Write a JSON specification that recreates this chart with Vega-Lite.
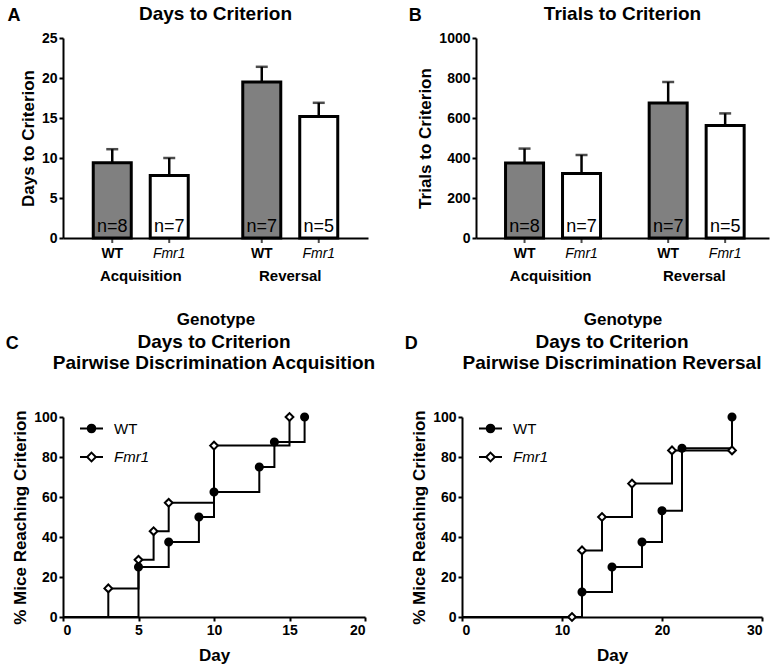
{
  "$schema": "https://vega.github.io/schema/vega-lite/v6.json",
  "padding": 5,
  "datasets": {
    "days": [
      {"phase": "Acquisition", "genotype": "WT", "mean": 9.4, "upper": 11.1, "n": "n=8"},
      {"phase": "Acquisition", "genotype": "Fmr1", "mean": 7.8, "upper": 10.0, "n": "n=7"},
      {"phase": "Reversal", "genotype": "WT", "mean": 19.5, "upper": 21.4, "n": "n=7"},
      {"phase": "Reversal", "genotype": "Fmr1", "mean": 15.2, "upper": 16.9, "n": "n=5"}
    ],
    "trials": [
      {"phase": "Acquisition", "genotype": "WT", "mean": 375, "upper": 447, "n": "n=8"},
      {"phase": "Acquisition", "genotype": "Fmr1", "mean": 323, "upper": 415, "n": "n=7"},
      {"phase": "Reversal", "genotype": "WT", "mean": 675, "upper": 780, "n": "n=7"},
      {"phase": "Reversal", "genotype": "Fmr1", "mean": 562, "upper": 623, "n": "n=5"}
    ],
    "acq": [
      {"genotype": "WT", "day": 0, "pct": 0},
      {"genotype": "WT", "day": 5, "pct": 25},
      {"genotype": "WT", "day": 7, "pct": 37.5},
      {"genotype": "WT", "day": 9, "pct": 50},
      {"genotype": "WT", "day": 10, "pct": 62.5},
      {"genotype": "WT", "day": 13, "pct": 75},
      {"genotype": "WT", "day": 14, "pct": 87.5},
      {"genotype": "WT", "day": 16, "pct": 100},
      {"genotype": "Fmr1", "day": 0, "pct": 0},
      {"genotype": "Fmr1", "day": 3, "pct": 14.3},
      {"genotype": "Fmr1", "day": 5, "pct": 28.6},
      {"genotype": "Fmr1", "day": 6, "pct": 42.9},
      {"genotype": "Fmr1", "day": 7, "pct": 57.1},
      {"genotype": "Fmr1", "day": 10, "pct": 85.7},
      {"genotype": "Fmr1", "day": 15, "pct": 100}
    ],
    "rev": [
      {"genotype": "WT", "day": 0, "pct": 0},
      {"genotype": "WT", "day": 12, "pct": 12.5},
      {"genotype": "WT", "day": 15, "pct": 25},
      {"genotype": "WT", "day": 18, "pct": 37.5},
      {"genotype": "WT", "day": 20, "pct": 53.1},
      {"genotype": "WT", "day": 22, "pct": 84.4},
      {"genotype": "WT", "day": 27, "pct": 100},
      {"genotype": "Fmr1", "day": 0, "pct": 0},
      {"genotype": "Fmr1", "day": 11, "pct": 0},
      {"genotype": "Fmr1", "day": 12, "pct": 33.3},
      {"genotype": "Fmr1", "day": 14, "pct": 50},
      {"genotype": "Fmr1", "day": 17, "pct": 66.7},
      {"genotype": "Fmr1", "day": 21, "pct": 83.3},
      {"genotype": "Fmr1", "day": 27, "pct": 83.3}
    ]
  },
  "vconcat": [
    {
      "hconcat": [
        {
          "title": {"text": "A", "anchor": "start", "frame": "bounds", "fontSize": 18, "offset": -22, "dx": -12, "dy": -2},
          "vconcat": [
            {
              "title": {"text": "Days to Criterion", "anchor": "middle", "frame": "group", "offset": 7},
              "width": 305, "height": 200,
              "data": {"name": "days"},
              "encoding": {
                "x": {"field": "phase", "type": "nominal", "sort": ["Acquisition", "Reversal"],
                      "scale": {"paddingInner": 0.2, "paddingOuter": 0.12},
                      "axis": {"title": "Genotype", "labelAngle": 0, "ticks": false, "labelPadding": 30, "titlePadding": 28, "labelFontSize": 15}},
                "xOffset": {"field": "genotype", "type": "nominal", "sort": ["WT", "Fmr1"],
                      "scale": {"paddingInner": 0.333, "paddingOuter": 0.216}},
                "y": {"field": "mean", "type": "quantitative", "scale": {"domain": [0, 25], "nice": false},
                      "axis": {"title": "Days to Criterion", "values": [0, 5, 10, 15, 20, 25], "labelOverlap": false}}
              },
              "layer": [
                {"mark": {"type": "rule", "strokeWidth": 2.5, "color": "black"},
                 "encoding": {"y2": {"field": "upper"}}},
                {"mark": {"type": "tick", "orient": "horizontal", "size": 12, "thickness": 2.5, "color": "black"},
                 "encoding": {"y": {"field": "upper", "type": "quantitative",
                   "axis": {"title": "Days to Criterion", "values": [0, 5, 10, 15, 20, 25], "labelOverlap": false}}}},
                {"mark": {"type": "tick", "orient": "vertical", "size": 10, "thickness": 2, "color": "black"},
                 "encoding": {"y": {"datum": 0, "type": "quantitative",
                   "axis": {"title": "Days to Criterion", "values": [0, 5, 10, 15, 20, 25], "labelOverlap": false}}}},
                {"mark": {"type": "bar", "stroke": "black", "strokeWidth": 3},
                 "encoding": {"fill": {"field": "genotype", "type": "nominal", "scale": {"domain": ["WT", "Fmr1"], "range": ["#808080", "#ffffff"]}, "legend": null}}},
                {"mark": {"type": "text", "baseline": "bottom", "dy": -2, "fontSize": 18, "color": "black"},
                 "encoding": {"y": {"datum": 0, "type": "quantitative",
                   "axis": {"title": "Days to Criterion", "values": [0, 5, 10, 15, 20, 25], "labelOverlap": false}}, "text": {"field": "n"}}},
                {"transform": [{"filter": "datum.genotype === 'WT'"}],
                 "mark": {"type": "text", "baseline": "top", "dy": 9, "fontSize": 14, "fontWeight": "bold", "color": "black"},
                 "encoding": {"y": {"datum": 0, "type": "quantitative",
                   "axis": {"title": "Days to Criterion", "values": [0, 5, 10, 15, 20, 25], "labelOverlap": false}}, "text": {"field": "genotype"}}},
                {"transform": [{"filter": "datum.genotype === 'Fmr1'"}],
                 "mark": {"type": "text", "baseline": "top", "dy": 9, "fontSize": 14, "fontStyle": "italic", "color": "black"},
                 "encoding": {"y": {"datum": 0, "type": "quantitative",
                   "axis": {"title": "Days to Criterion", "values": [0, 5, 10, 15, 20, 25], "labelOverlap": false}}, "text": {"field": "genotype"}}}
              ]
            }
          ]
        },
        {
          "title": {"text": "B", "anchor": "start", "frame": "bounds", "fontSize": 18, "offset": -22, "dx": -8, "dy": -2},
          "vconcat": [
            {
              "title": {"text": "Trials to Criterion", "anchor": "middle", "frame": "group", "offset": 7},
              "width": 293, "height": 200,
              "data": {"name": "trials"},
              "encoding": {
                "x": {"field": "phase", "type": "nominal", "sort": ["Acquisition", "Reversal"],
                      "scale": {"paddingInner": 0.2, "paddingOuter": 0.12},
                      "axis": {"title": "Genotype", "labelAngle": 0, "ticks": false, "labelPadding": 30, "titlePadding": 28, "labelFontSize": 15}},
                "xOffset": {"field": "genotype", "type": "nominal", "sort": ["WT", "Fmr1"],
                      "scale": {"paddingInner": 0.333, "paddingOuter": 0.216}},
                "y": {"field": "mean", "type": "quantitative", "scale": {"domain": [0, 1000], "nice": false},
                      "axis": {"title": "Trials to Criterion", "values": [0, 200, 400, 600, 800, 1000], "format": "d", "labelOverlap": false}}
              },
              "layer": [
                {"mark": {"type": "rule", "strokeWidth": 2.5, "color": "black"},
                 "encoding": {"y2": {"field": "upper"}}},
                {"mark": {"type": "tick", "orient": "horizontal", "size": 12, "thickness": 2.5, "color": "black"},
                 "encoding": {"y": {"field": "upper", "type": "quantitative",
                   "axis": {"title": "Trials to Criterion", "values": [0, 200, 400, 600, 800, 1000], "format": "d", "labelOverlap": false}}}},
                {"mark": {"type": "tick", "orient": "vertical", "size": 10, "thickness": 2, "color": "black"},
                 "encoding": {"y": {"datum": 0, "type": "quantitative",
                   "axis": {"title": "Trials to Criterion", "values": [0, 200, 400, 600, 800, 1000], "format": "d", "labelOverlap": false}}}},
                {"mark": {"type": "bar", "stroke": "black", "strokeWidth": 3},
                 "encoding": {"fill": {"field": "genotype", "type": "nominal", "scale": {"domain": ["WT", "Fmr1"], "range": ["#808080", "#ffffff"]}, "legend": null}}},
                {"mark": {"type": "text", "baseline": "bottom", "dy": -2, "fontSize": 18, "color": "black"},
                 "encoding": {"y": {"datum": 0, "type": "quantitative",
                   "axis": {"title": "Trials to Criterion", "values": [0, 200, 400, 600, 800, 1000], "format": "d", "labelOverlap": false}}, "text": {"field": "n"}}},
                {"transform": [{"filter": "datum.genotype === 'WT'"}],
                 "mark": {"type": "text", "baseline": "top", "dy": 9, "fontSize": 14, "fontWeight": "bold", "color": "black"},
                 "encoding": {"y": {"datum": 0, "type": "quantitative",
                   "axis": {"title": "Trials to Criterion", "values": [0, 200, 400, 600, 800, 1000], "format": "d", "labelOverlap": false}}, "text": {"field": "genotype"}}},
                {"transform": [{"filter": "datum.genotype === 'Fmr1'"}],
                 "mark": {"type": "text", "baseline": "top", "dy": 9, "fontSize": 14, "fontStyle": "italic", "color": "black"},
                 "encoding": {"y": {"datum": 0, "type": "quantitative",
                   "axis": {"title": "Trials to Criterion", "values": [0, 200, 400, 600, 800, 1000], "format": "d", "labelOverlap": false}}, "text": {"field": "genotype"}}}
              ]
            }
          ]
        }
      ],
      "spacing": 40,
      "resolve": {"scale": {"fill": "independent"}}
    },
    {
      "hconcat": [
        {
          "title": {"text": "C", "anchor": "start", "frame": "bounds", "fontSize": 18, "offset": -20, "dx": -6},
          "vconcat": [
            {
              "title": {"text": ["Days to Criterion", "Pairwise Discrimination Acquisition"], "anchor": "middle", "frame": "group", "fontSize": 19, "lineHeight": 21, "offset": 36},
              "width": 302, "height": 200,
              "data": {"name": "acq"},
              "encoding": {
                "x": {"field": "day", "type": "quantitative", "scale": {"domain": [0, 20], "nice": false},
                      "axis": {"title": "Day", "values": [0, 5, 10, 15, 20], "titlePadding": 10}},
                "y": {"field": "pct", "type": "quantitative", "scale": {"domain": [0, 100], "nice": false},
                      "axis": {"title": "% Mice Reaching Criterion", "values": [0, 20, 40, 60, 80, 100]}}
              },
              "layer": [
                {"mark": {"type": "line", "interpolate": "step-after", "color": "black", "strokeWidth": 2},
                 "encoding": {"detail": {"field": "genotype"}}},
                {"transform": [{"filter": "datum.genotype === 'WT' && datum.day > 0"}],
                 "mark": {"type": "point", "shape": "circle", "filled": true, "fill": "black", "stroke": "black", "strokeWidth": 2, "opacity": 1, "size": 50}},
                {"transform": [{"filter": "datum.genotype === 'Fmr1' && datum.day > 0"}],
                 "mark": {"type": "point", "shape": "diamond", "filled": true, "fill": "white", "stroke": "black", "strokeWidth": 2, "opacity": 1, "size": 60}},
                {"transform": [{"filter": "datum.genotype === 'WT' && datum.day > 0"}],
                 "mark": {"type": "point", "filled": true, "fill": "black", "shape": "M-1,0H1M0.33,0A0.33,0.33 0 1,1 -0.33,0A0.33,0.33 0 1,1 0.33,0Z", "strokeWidth": 2, "opacity": 0},
                 "encoding": {"stroke": {"field": "genotype", "type": "nominal",
                   "scale": {"domain": ["WT"], "range": ["black"]},
                   "legend": {"title": null, "orient": "none", "legendX": 16, "legendY": -1, "padding": 0, "symbolSize": 529,
                     "symbolType": "M-1,0H1M0.33,0A0.33,0.33 0 1,1 -0.33,0A0.33,0.33 0 1,1 0.33,0Z",
                     "symbolFillColor": "black", "symbolStrokeWidth": 2, "symbolOpacity": 1,
                     "labelFontSize": 15, "labelOffset": 10}}}},
                {"transform": [{"filter": "datum.genotype === 'Fmr1' && datum.day > 0"}],
                 "mark": {"type": "point", "filled": true, "shape": "M-1,0H-0.38M0.38,0H1M0,-0.38L0.38,0L0,0.38L-0.38,0Z", "stroke": "black", "strokeWidth": 2, "opacity": 0},
                 "encoding": {"fill": {"field": "genotype", "type": "nominal",
                   "scale": {"domain": ["Fmr1"], "range": ["white"]},
                   "legend": {"title": null, "orient": "none", "legendX": 16, "legendY": 27.5, "padding": 0, "symbolSize": 529,
                     "symbolType": "M-1,0H-0.38M0.38,0H1M0,-0.38L0.38,0L0,0.38L-0.38,0Z",
                     "symbolStrokeColor": "black", "symbolStrokeWidth": 2, "symbolOpacity": 1,
                     "labelFontSize": 15, "labelOffset": 10, "labelFontStyle": "italic"}}}}
              ]
            }
          ]
        },
        {
          "title": {"text": "D", "anchor": "start", "frame": "bounds", "fontSize": 18, "offset": -20, "dx": -6},
          "vconcat": [
            {
              "title": {"text": ["Days to Criterion", "Pairwise Discrimination Reversal"], "anchor": "middle", "frame": "group", "fontSize": 19, "lineHeight": 21, "offset": 36},
              "width": 300, "height": 200,
              "data": {"name": "rev"},
              "encoding": {
                "x": {"field": "day", "type": "quantitative", "scale": {"domain": [0, 30], "nice": false},
                      "axis": {"title": "Day", "values": [0, 10, 20, 30], "titlePadding": 10}},
                "y": {"field": "pct", "type": "quantitative", "scale": {"domain": [0, 100], "nice": false},
                      "axis": {"title": "% Mice Reaching Criterion", "values": [0, 20, 40, 60, 80, 100]}}
              },
              "layer": [
                {"mark": {"type": "line", "interpolate": "step-after", "color": "black", "strokeWidth": 2},
                 "encoding": {"detail": {"field": "genotype"}}},
                {"transform": [{"filter": "datum.genotype === 'WT' && datum.day > 0"}],
                 "mark": {"type": "point", "shape": "circle", "filled": true, "fill": "black", "stroke": "black", "strokeWidth": 2, "opacity": 1, "size": 50}},
                {"transform": [{"filter": "datum.genotype === 'Fmr1' && datum.day > 0"}],
                 "mark": {"type": "point", "shape": "diamond", "filled": true, "fill": "white", "stroke": "black", "strokeWidth": 2, "opacity": 1, "size": 60}},
                {"transform": [{"filter": "datum.genotype === 'WT' && datum.day > 0"}],
                 "mark": {"type": "point", "filled": true, "fill": "black", "shape": "M-1,0H1M0.33,0A0.33,0.33 0 1,1 -0.33,0A0.33,0.33 0 1,1 0.33,0Z", "strokeWidth": 2, "opacity": 0},
                 "encoding": {"stroke": {"field": "genotype", "type": "nominal",
                   "scale": {"domain": ["WT"], "range": ["black"]},
                   "legend": {"title": null, "orient": "none", "legendX": 16, "legendY": -1, "padding": 0, "symbolSize": 529,
                     "symbolType": "M-1,0H1M0.33,0A0.33,0.33 0 1,1 -0.33,0A0.33,0.33 0 1,1 0.33,0Z",
                     "symbolFillColor": "black", "symbolStrokeWidth": 2, "symbolOpacity": 1,
                     "labelFontSize": 15, "labelOffset": 10}}}},
                {"transform": [{"filter": "datum.genotype === 'Fmr1' && datum.day > 0"}],
                 "mark": {"type": "point", "filled": true, "shape": "M-1,0H-0.38M0.38,0H1M0,-0.38L0.38,0L0,0.38L-0.38,0Z", "stroke": "black", "strokeWidth": 2, "opacity": 0},
                 "encoding": {"fill": {"field": "genotype", "type": "nominal",
                   "scale": {"domain": ["Fmr1"], "range": ["white"]},
                   "legend": {"title": null, "orient": "none", "legendX": 16, "legendY": 27.5, "padding": 0, "symbolSize": 529,
                     "symbolType": "M-1,0H-0.38M0.38,0H1M0,-0.38L0.38,0L0,0.38L-0.38,0Z",
                     "symbolStrokeColor": "black", "symbolStrokeWidth": 2, "symbolOpacity": 1,
                     "labelFontSize": 15, "labelOffset": 10, "labelFontStyle": "italic"}}}}
              ]
            }
          ]
        }
      ],
      "spacing": 28,
      "resolve": {"scale": {"shape": "independent", "fill": "independent", "stroke": "independent"}, "legend": {"shape": "independent", "fill": "independent", "stroke": "independent"}}
    }
  ],
  "spacing": 6,
  "resolve": {"scale": {"shape": "independent", "fill": "independent", "stroke": "independent"}, "legend": {"shape": "independent", "fill": "independent", "stroke": "independent"}},
  "config": {
    "font": "Liberation Sans",
    "view": {"stroke": null},
    "axis": {"domainColor": "black", "domainWidth": 2, "tickColor": "black", "tickWidth": 2, "tickSize": 4, "labelPadding": 2,
             "labelColor": "black", "labelFontWeight": "bold", "labelFontSize": 14, "titleFontSize": 17, "labelOverlap": false,
             "titleFontWeight": "bold", "titleColor": "black", "grid": false},
    "legend": {"labelColor": "black", "labelFont": "Liberation Sans"},
    "title": {"fontSize": 19, "fontWeight": "bold", "color": "black", "font": "Liberation Sans"}
  }
}
